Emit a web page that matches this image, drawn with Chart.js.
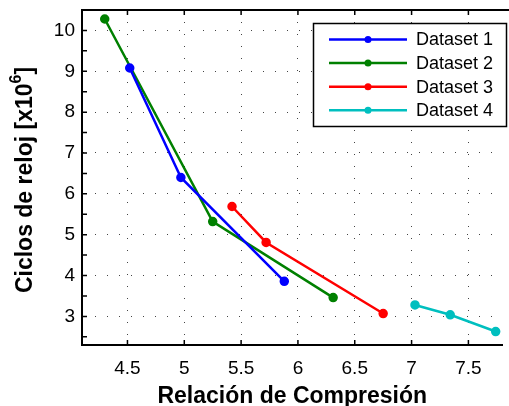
<!DOCTYPE html>
<html>
<head>
<meta charset="utf-8">
<script src="https://cdn.jsdelivr.net/npm/chart.js@4/dist/chart.umd.min.js"></script>
<style>
  html, body { margin: 0; padding: 0; background: #fff; }
  #wrap { width: 509px; height: 406px; }
</style>
</head>
<body>
<div id="wrap"><canvas id="chart" width="509" height="406"></canvas></div>
<script>
// values
const seriesLabels = ['Dataset 1', 'Dataset 2', 'Dataset 3', 'Dataset 4'];
const seriesColors = ['#0000ff', '#008000', '#ff0000', '#00bfbf'];

const ds1X = [4.52, 4.97, 5.88];
const ds1Y = [9.08, 6.40, 3.86];
const ds2X = [4.30, 5.25, 6.31];
const ds2Y = [10.28, 5.32, 3.46];
const ds3X = [5.42, 5.72, 6.75];
const ds3Y = [5.69, 4.81, 3.07];
const ds4X = [7.03, 7.34, 7.74];
const ds4Y = [3.28, 3.04, 2.63];

const xTicks = [4.5, 5, 5.5, 6, 6.5, 7, 7.5];
const yTicks = [3, 4, 5, 6, 7, 8, 9, 10];

const FONT = "'Liberation Sans', Arial, Helvetica, sans-serif";

const pts = (xs, ys) => xs.map((x, i) => ({ x: x, y: ys[i] }));
const allX = [ds1X, ds2X, ds3X, ds4X];
const allY = [ds1Y, ds2Y, ds3Y, ds4Y];

const datasets = seriesLabels.map((label, i) => ({
  label: label,
  data: pts(allX[i], allY[i]),
  borderColor: seriesColors[i],
  backgroundColor: seriesColors[i],
  pointBackgroundColor: seriesColors[i],
  pointBorderColor: seriesColors[i],
  borderWidth: 2.5,
  pointRadius: 3.5,
  showLine: true,
  tension: 0
}));

// white background, top border, inward tick marks, y title, legend box
const boxPlugin = {
  id: 'box',
  beforeDraw(chart) {
    const ctx = chart.ctx;
    ctx.save();
    ctx.fillStyle = '#fff';
    ctx.fillRect(0, 0, chart.width, chart.height);
    ctx.restore();
  },
  afterDraw(chart) {
    const { ctx, chartArea: a, scales } = chart;
    ctx.save();
    ctx.strokeStyle = '#000';
    ctx.lineWidth = 2;
    ctx.beginPath();
    ctx.moveTo(a.left, a.top);
    ctx.lineTo(chart.width, a.top);
    ctx.stroke();

    ctx.lineWidth = 1.5;
    const t = 5;
    ctx.beginPath();
    xTicks.forEach(v => {
      const x = scales.x.getPixelForValue(v);
      ctx.moveTo(x, a.bottom); ctx.lineTo(x, a.bottom - t);
      ctx.moveTo(x, a.top); ctx.lineTo(x, a.top + t);
    });
    for (let v = 2.5; v <= 10.5; v += 0.5) {
      const y = scales.y.getPixelForValue(v);
      if (y < a.top || y > a.bottom) continue;
      ctx.moveTo(a.left, y); ctx.lineTo(a.left + t, y);
    }
    ctx.stroke();

    // y title with superscript
    const main = 'Ciclos de reloj [x10';
    const sup = '6';
    const tail = ']';
    ctx.fillStyle = '#000';
    ctx.font = 'bold 23px ' + FONT;
    const w1 = ctx.measureText(main).width;
    const w3 = ctx.measureText(tail).width;
    ctx.font = 'bold 16px ' + FONT;
    const w2 = ctx.measureText(sup).width;
    const total = w1 + w2 + w3;
    ctx.translate(26, 180);
    ctx.rotate(-Math.PI / 2);
    ctx.textBaseline = 'middle';
    ctx.textAlign = 'left';
    const x0 = -total / 2;
    ctx.font = 'bold 23px ' + FONT;
    ctx.fillText(main, x0, 0);
    ctx.font = 'bold 16px ' + FONT;
    ctx.fillText(sup, x0 + w1, -9);
    ctx.font = 'bold 23px ' + FONT;
    ctx.fillText(tail, x0 + w1 + w2, 0);
    ctx.restore();

    // legend
    const lx = 313.5, ly = 23.5, lw = 193, lh = 103;
    ctx.save();
    ctx.fillStyle = '#fff';
    ctx.fillRect(lx, ly, lw, lh);
    ctx.strokeStyle = '#000';
    ctx.lineWidth = 1.5;
    ctx.strokeRect(lx, ly, lw, lh);
    ctx.font = '18px ' + FONT;
    ctx.textBaseline = 'middle';
    ctx.textAlign = 'left';
    chart.data.datasets.forEach((ds, i) => {
      const y = 39.5 + i * 23.6;
      ctx.strokeStyle = ds.borderColor;
      ctx.lineWidth = 2.5;
      ctx.beginPath();
      ctx.moveTo(329, y); ctx.lineTo(407, y);
      ctx.stroke();
      ctx.fillStyle = ds.borderColor;
      ctx.beginPath();
      ctx.arc(368, y, 3.5, 0, Math.PI * 2);
      ctx.fill();
      ctx.fillStyle = '#000';
      ctx.fillText(ds.label, 416, y + 1);
    });
    ctx.restore();
  }
};

new Chart(document.getElementById('chart').getContext('2d'), {
  type: 'scatter',
  data: { datasets: datasets },
  options: {
    responsive: false,
    animation: false,
    layout: { padding: { left: 0, right: 1, top: 10, bottom: 0 } },
    plugins: {
      legend: { display: false },
      tooltip: { enabled: false }
    },
    scales: {
      x: {
        type: 'linear',
        min: 4.1,
        max: 7.8,
        afterBuildTicks: s => { s.ticks = xTicks.map(v => ({ value: v })); },
        afterFit: s => { s.height = 61; s.paddingLeft = 0; s.paddingRight = 0; },
        ticks: {
          color: '#000',
          font: { family: FONT, size: 19 },
          padding: 12,
          maxRotation: 0,
          callback: v => String(v)
        },
        grid: { color: '#444', lineWidth: 1, drawTicks: false },
        border: { display: true, color: '#000', width: 2, dash: [1, 11] },
        title: {
          display: true,
          text: 'Relación de Compresión',
          color: '#000',
          font: { family: FONT, size: 23, weight: 'bold' },
          padding: { top: 0, bottom: -4 }
        }
      },
      y: {
        type: 'linear',
        min: 2.3,
        max: 10.5,
        afterBuildTicks: s => { s.ticks = yTicks.map(v => ({ value: v })); },
        afterFit: s => { s.width = 82; s.paddingTop = 0; s.paddingBottom = 0; },
        ticks: {
          color: '#000',
          font: { family: FONT, size: 19 },
          padding: 7,
          callback: v => String(v)
        },
        grid: { color: '#444', lineWidth: 1, drawTicks: false },
        border: { display: true, color: '#000', width: 2, dash: [1, 11] }
      }
    }
  },
  plugins: [boxPlugin]
});
</script>
</body>
</html>
